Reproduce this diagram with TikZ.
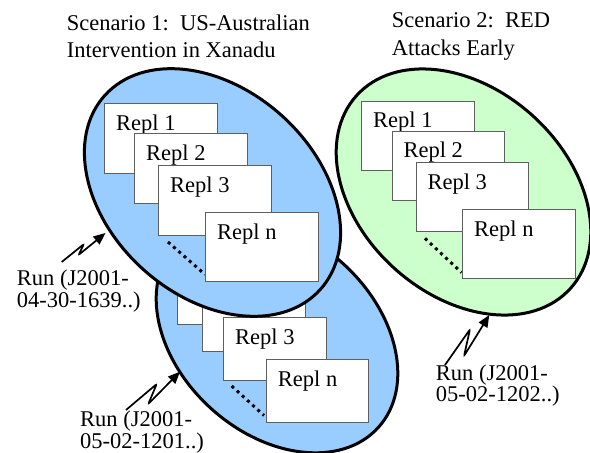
\documentclass[tikz,border=0pt]{standalone}
\usepackage{fontspec}
\setmainfont{Liberation Serif}
\usetikzlibrary{shapes.geometric,arrows.meta,calc}
\definecolor{blueF}{RGB}{153,204,255}
\definecolor{greenF}{RGB}{204,255,204}
\definecolor{boxE}{RGB}{95,95,95}
\begin{document}
\begin{tikzpicture}[x=1pt,y=-1pt,
  scen/.style={draw=black, line width=3pt, ellipse, inner sep=0pt, outer sep=0pt},
  rbox/.style={draw=boxE, line width=1pt, fill=white, inner sep=0pt, anchor=north west},
  rtext/.style={font=\fontsize{22.5}{26}\selectfont, inner sep=0pt, anchor=base west},
  ttl/.style={font=\fontsize{22.5}{27.5}\selectfont, inner sep=0pt, anchor=base west, align=left},
  lbl/.style={font=\fontsize{22.5}{19}\selectfont, inner sep=0pt, anchor=base west, align=left},
  lblb/.style={font=\fontsize{22.5}{18}\selectfont, inner sep=0pt, anchor=base west, align=left},
  bolt/.style={line width=1.7pt, rounded corners=2pt, -{Triangle[length=12pt,width=10pt]}},
  dotline/.style={line width=3pt, dash pattern=on 3pt off 4pt}
]
\useasboundingbox (0,0) rectangle (590,453);

% ---- Scenario 1, second run (behind) ----
\node[scen, fill=blueF, minimum width=273pt, minimum height=196pt, rotate=-42] (s1b) at (277,336) {};
\node[rbox, minimum width=102.3pt, minimum height=63pt] (b21) at (176.7,261.3) {};
\node[rbox, minimum width=102.3pt, minimum height=63pt] (b22) at (202.3,288) {};
\node[rbox, minimum width=102.3pt, minimum height=63pt] (b23) at (223.3,317.3) {};
\node[rtext] (b23t) at ($(b23.north west)+(11.7,26.7)$) {Repl 3};
\coordinate (d2a) at (231.7,386);
\coordinate (d2b) at (264,415.5);
\draw[dotline] (d2a) -- (d2b);
\node[rbox, minimum width=102.3pt, minimum height=63pt] (b2n) at (266,359.3) {};
\node[rtext] (b2nt) at ($(b2n.north west)+(11.7,26.7)$) {Repl n};

% ---- Scenario 1, first run ----
\node[scen, fill=blueF, minimum width=290pt, minimum height=207pt, rotate=-42] (s1a) at (212.5,192.5) {};
\node[rbox, minimum width=112.4pt, minimum height=69.4pt] (b11) at (104.3,103.3) {};
\node[rtext] (b11t) at ($(b11.north west)+(11.7,27.2)$) {Repl 1};
\node[rbox, minimum width=112.4pt, minimum height=69.4pt] (b12) at (134.3,133.3) {};
\node[rtext] (b12t) at ($(b12.north west)+(11.7,27.2)$) {Repl 2};
\node[rbox, minimum width=112.4pt, minimum height=69.4pt] (b13) at (158.3,165.3) {};
\node[rtext] (b13t) at ($(b13.north west)+(11.7,27.2)$) {Repl 3};
\coordinate (d1a) at (168,242);
\coordinate (d1b) at (205,274.5);
\draw[dotline] (d1a) -- (d1b);
\node[rbox, minimum width=112.4pt, minimum height=69.4pt] (b1n) at (205.3,212) {};
\node[rtext] (b1nt) at ($(b1n.north west)+(11.7,27.2)$) {Repl n};

% ---- Scenario 2 ----
\node[scen, fill=greenF, minimum width=288pt, minimum height=206pt, rotate=-42] (s2) at (463.5,192) {};
\node[rbox, minimum width=112.4pt, minimum height=68.8pt] (g1) at (361.3,100.7) {};
\node[rtext] (g1t) at ($(g1.north west)+(11.7,27.2)$) {Repl 1};
\node[rbox, minimum width=112.4pt, minimum height=68.8pt] (g2) at (391.7,130.7) {};
\node[rtext] (g2t) at ($(g2.north west)+(11.7,27.2)$) {Repl 2};
\node[rbox, minimum width=112.4pt, minimum height=68.8pt] (g3) at (415.7,162.3) {};
\node[rtext] (g3t) at ($(g3.north west)+(11.7,27.2)$) {Repl 3};
\coordinate (d3a) at (425,238.3);
\coordinate (d3b) at (461.5,272.5);
\draw[dotline] (d3a) -- (d3b);
\node[rbox, minimum width=112.4pt, minimum height=68.8pt] (gn) at (462.3,209.3) {};
\node[rtext] (gnt) at ($(gn.north west)+(11.7,27.2)$) {Repl n};

% ---- titles (base = last line) ----
\node[ttl] (t1) at (66.7,57.7) {Scenario 1:\ \ US-Australian\\Intervention in Xanadu};
\node[ttl] (t2) at (391.7,55) {Scenario 2:\ \ RED\\Attacks Early};

% ---- run labels (base = last line) ----
\node[lbl] (l1) at (16.7,307.3) {Run (J2001-\\04-30-1639..)};
\node[lblb] (l2) at (80,448.3) {Run (J2001-\\05-02-1201..)};
\node[lbl] (l3) at (435.7,401.7) {Run (J2001-\\05-02-1202..)};

% ---- bolts ----
\coordinate (a1s) at (61.7,262);
\coordinate (a1e) at (105.5,233);
\draw[bolt] (a1s) -- (84,244) -- (78.5,255) -- (a1e);
\coordinate (a2s) at (126,410);
\coordinate (a2e) at (180,371.7);
\draw[bolt] (a2s) -- (156.7,384) -- (148.3,404) -- (a2e);
\coordinate (a3s) at (445,365);
\coordinate (a3e) at (489.3,315);
\draw[bolt] (a3s) -- (470,329.3) -- (464,356) -- (a3e);
\end{tikzpicture}
\end{document}
